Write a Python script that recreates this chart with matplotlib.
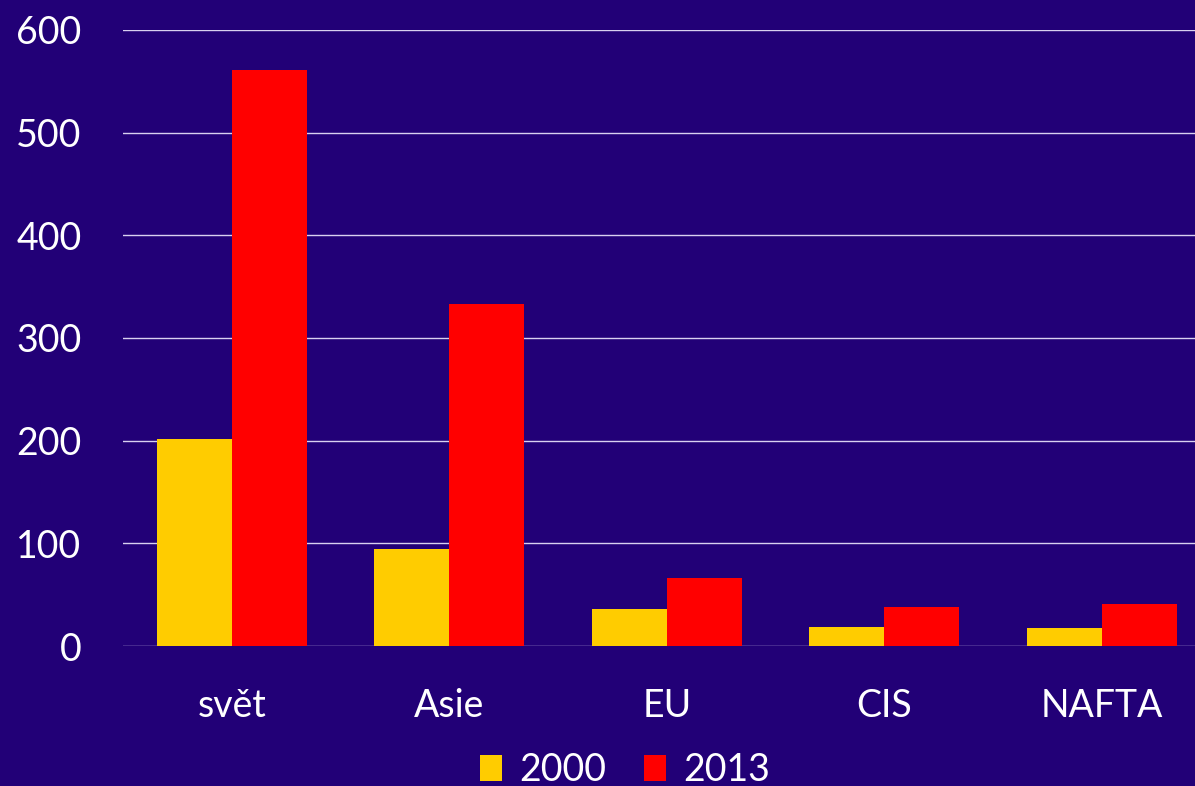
import matplotlib.pyplot as plt
import numpy as np

categories = ['svět', 'Asie', 'EU', 'CIS', 'NAFTA']
values_2000 = [202, 95, 36, 19, 18]
values_2013 = [561, 333, 66, 38, 41]
yticks = [0, 100, 200, 300, 400, 500, 600]

bg = '#220077'
plt.rcParams['font.family'] = ['Lato', 'DejaVu Sans']

fig = plt.figure(figsize=(11.95, 7.86), dpi=100, facecolor=bg)
ax = fig.add_axes([0.103, 0.178, 0.91, 0.784], facecolor=bg)

x = np.arange(len(categories))
w = 0.345
ax.bar(x - w / 2, values_2000, w, color='#FFCC00', label='2000', zorder=3)
ax.bar(x + w / 2, values_2013, w, color='#FF0000', label='2013', zorder=3)

ax.set_xlim(-0.5, len(categories) - 0.5)
ax.set_ylim(0, 600)
ax.set_yticks(yticks)
ax.set_xticks(x)
ax.set_xticklabels(categories)
ax.grid(axis='y', color='#d8d0f0', linewidth=1, zorder=0)
for s in ax.spines.values():
    s.set_visible(False)
ax.tick_params(axis='y', length=0, pad=30, labelsize=27, labelcolor='white')
ax.tick_params(axis='x', length=0, pad=30, labelsize=27, labelcolor='white')

fig.legend(loc='center', bbox_to_anchor=(625 / 1195, 1 - 770 / 786), ncol=2,
           frameon=False, fontsize=27, labelcolor='white',
           handlelength=0.6, handleheight=0.7, columnspacing=1.0, handletextpad=0.45)

fig.savefig('out.png', dpi=100, facecolor=bg)
